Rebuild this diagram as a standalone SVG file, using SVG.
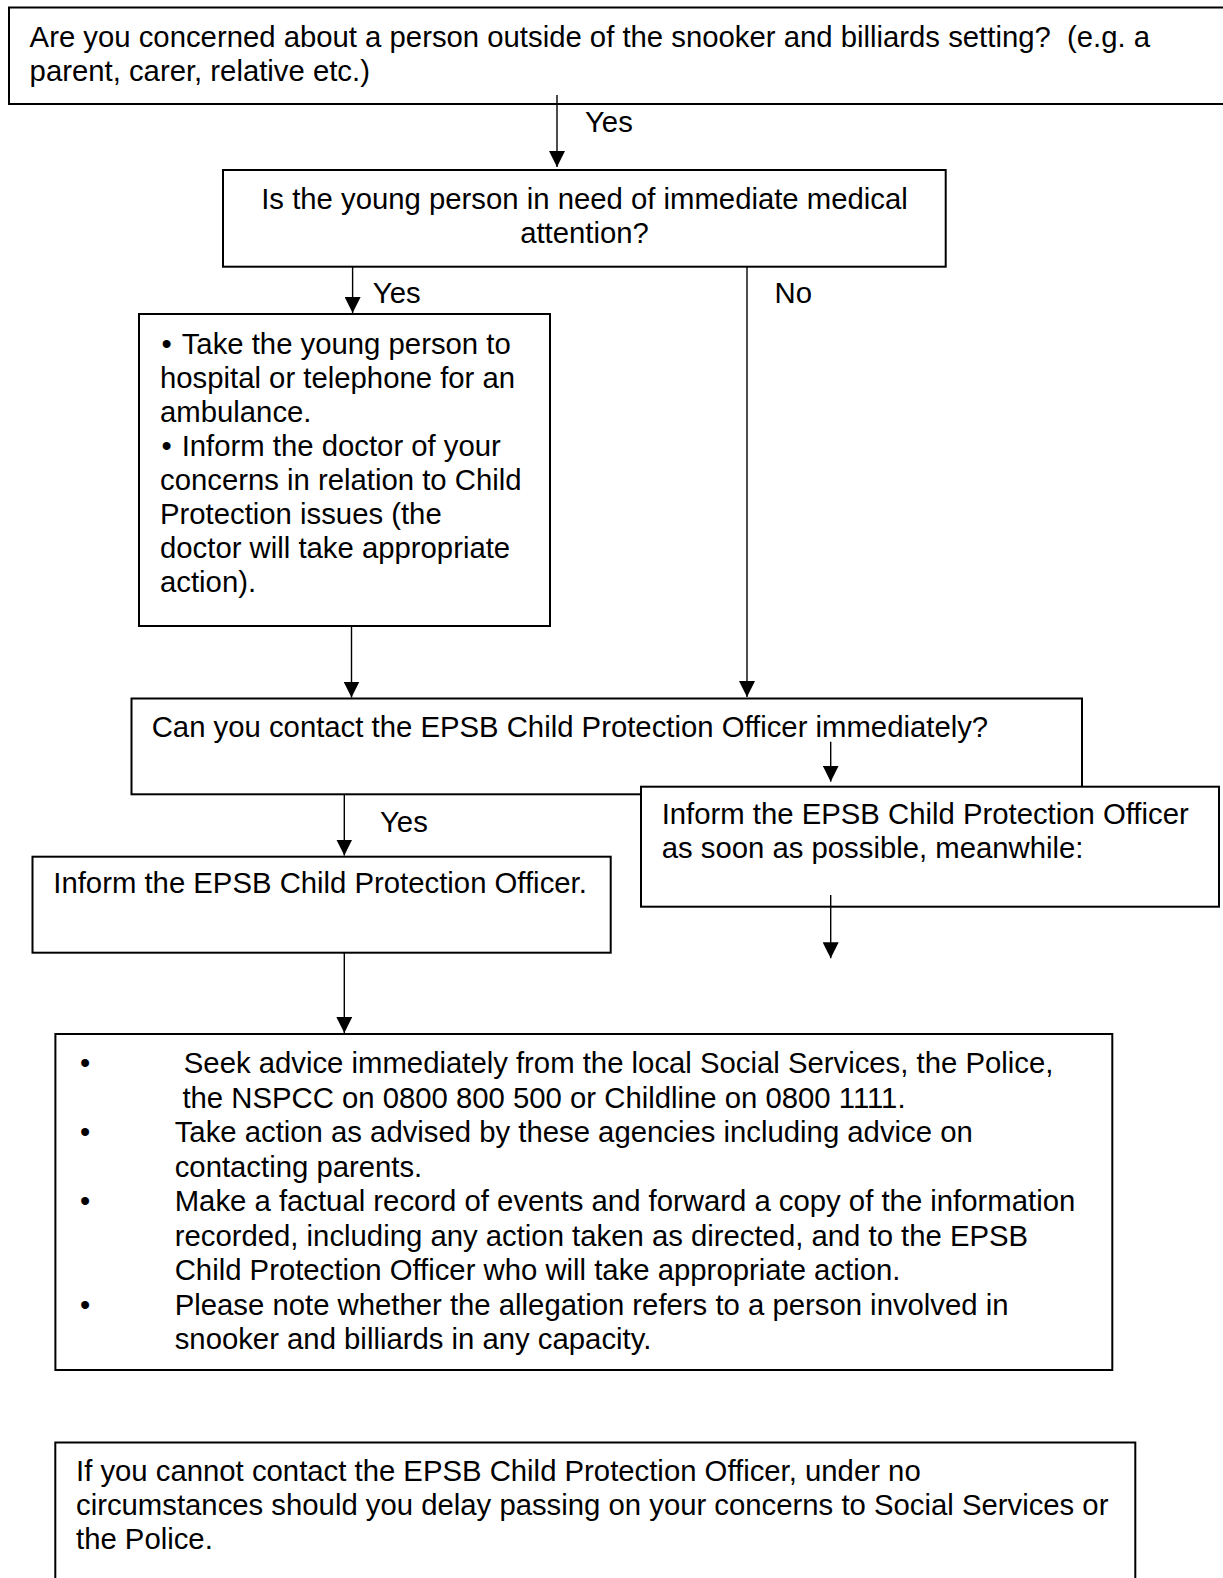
<svg xmlns="http://www.w3.org/2000/svg" width="1223" height="1578" viewBox="0 0 1223 1578">
<style>
  .box { fill: #fff; stroke: #000; stroke-width: 2; }
  .t { font-family: "Liberation Sans", Arial, sans-serif; font-size: 29.3px; fill: #000; white-space: pre; }
  .c { text-anchor: middle; }
  .conn { stroke: #000; stroke-width: 1.4; fill: none; marker-end: url(#arrow); }
</style>
<defs>
  <marker id="arrow" markerUnits="userSpaceOnUse" markerWidth="16" markerHeight="16" viewBox="0 0 14 14" refX="14" refY="7" orient="auto">
    <path d="M0,0 L14,7 L0,14 z" fill="#000"/>
  </marker>
</defs>
<rect x="0" y="0" width="1223" height="1578" fill="#fff"/>

<g id="node-outside">
  <rect class="box" x="9" y="7.5" width="1225" height="96.5"/>
  <text class="t" x="29.6" y="46.5" xml:space="preserve">Are you concerned about a person outside of the snooker and billiards setting?  (e.g. a</text>
  <text class="t" x="29.6" y="80.5">parent, carer, relative etc.)</text>
</g>

<g id="node-medical">
  <rect class="box" x="223" y="170" width="722.7" height="96.7"/>
  <text class="t c" x="584.5" y="209">Is the young person in need of immediate medical</text>
  <text class="t c" x="584.5" y="243">attention?</text>
</g>

<g id="node-hospital">
  <rect class="box" x="139" y="314" width="411" height="312"/>
  <text class="t" x="161.5" y="354">•</text>
  <text class="t" x="181.7" y="354">Take the young person to</text>
  <text class="t" x="160" y="388">hospital or telephone for an</text>
  <text class="t" x="160" y="422">ambulance.</text>
  <text class="t" x="161.5" y="456">•</text>
  <text class="t" x="181.7" y="456">Inform the doctor of your</text>
  <text class="t" x="160" y="490">concerns in relation to Child</text>
  <text class="t" x="160" y="524">Protection issues (the</text>
  <text class="t" x="160" y="558">doctor will take appropriate</text>
  <text class="t" x="160" y="592">action).</text>
</g>

<g id="node-contact">
  <rect class="box" x="131.5" y="698.5" width="950.5" height="95.8"/>
  <text class="t" x="151.7" y="737">Can you contact the EPSB Child Protection Officer immediately?</text>
</g>

<g id="node-asap">
  <rect class="box" x="641" y="786.7" width="578" height="120"/>
  <text class="t" x="661.7" y="824">Inform the EPSB Child Protection Officer</text>
  <text class="t" x="661.7" y="858">as soon as possible, meanwhile:</text>
</g>

<g id="node-inform">
  <rect class="box" x="32.5" y="856.7" width="578.2" height="96"/>
  <text class="t" x="53.3" y="893">Inform the EPSB Child Protection Officer.</text>
</g>

<g id="node-advice">
  <rect class="box" x="55.4" y="1034" width="1056.9" height="336"/>
  <text class="t" x="80" y="1073">•</text>
  <text class="t" x="183.8" y="1073">Seek advice immediately from the local Social Services, the Police,</text>
  <text class="t" x="182.4" y="1107.5">the NSPCC on 0800 800 500 or Childline on 0800 1111.</text>
  <text class="t" x="80" y="1142">•</text>
  <text class="t" x="174.7" y="1142">Take action as advised by these agencies including advice on</text>
  <text class="t" x="174.7" y="1176.5">contacting parents.</text>
  <text class="t" x="80" y="1211">•</text>
  <text class="t" x="174.7" y="1211">Make a factual record of events and forward a copy of the information</text>
  <text class="t" x="174.7" y="1245.5">recorded, including any action taken as directed, and to the EPSB</text>
  <text class="t" x="174.7" y="1280">Child Protection Officer who will take appropriate action.</text>
  <text class="t" x="80" y="1314.5">•</text>
  <text class="t" x="174.7" y="1314.5">Please note whether the allegation refers to a person involved in</text>
  <text class="t" x="174.7" y="1349">snooker and billiards in any capacity.</text>
</g>

<g id="node-note">
  <rect class="box" x="55.3" y="1442.5" width="1080" height="200"/>
  <text class="t" x="76" y="1481">If you cannot contact the EPSB Child Protection Officer, under no</text>
  <text class="t" x="76" y="1515">circumstances should you delay passing on your concerns to Social Services or</text>
  <text class="t" x="76" y="1549">the Police.</text>
</g>

<g id="connectors">
  <line class="conn" x1="557" y1="95" x2="557" y2="167"/>
  <line class="conn" x1="352.6" y1="266.7" x2="352.6" y2="313"/>
  <line class="conn" x1="747" y1="266.7" x2="747" y2="697"/>
  <line class="conn" x1="351.5" y1="626" x2="351.5" y2="697.5"/>
  <line class="conn" x1="830.7" y1="741.7" x2="830.7" y2="781.7"/>
  <line class="conn" x1="344.3" y1="794.3" x2="344.3" y2="855.5"/>
  <line class="conn" x1="830.7" y1="895" x2="830.7" y2="958.3"/>
  <line class="conn" x1="344.3" y1="952.7" x2="344.3" y2="1033"/>
  <text class="t" x="585" y="132">Yes</text>
  <text class="t" x="372.8" y="303">Yes</text>
  <text class="t" x="774.5" y="303">No</text>
  <text class="t" x="380" y="831.7">Yes</text>
</g>
</svg>
